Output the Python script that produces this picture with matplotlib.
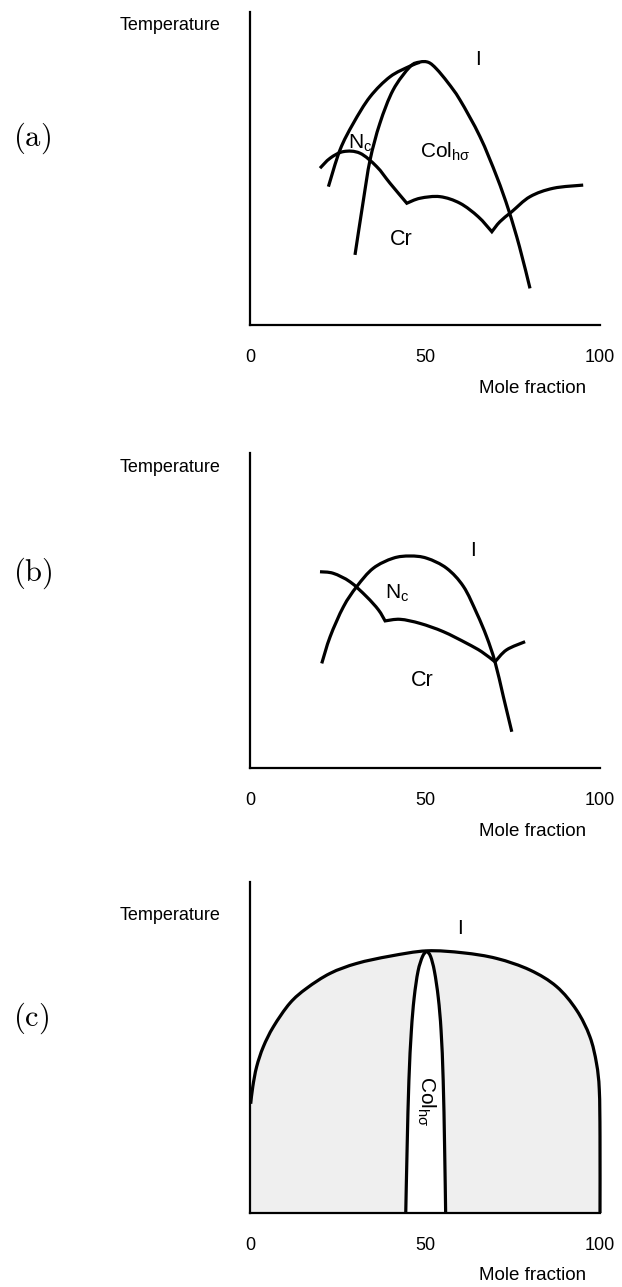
import matplotlib
matplotlib.use('Agg')
import matplotlib.pyplot as plt
from matplotlib.path import Path
from matplotlib.patches import PathPatch

plt.rcParams['font.family'] = ['Liberation Sans', 'DejaVu Sans']
plt.rcParams['mathtext.fontset'] = 'custom'
plt.rcParams['mathtext.rm'] = 'Liberation Sans'
plt.rcParams['mathtext.it'] = 'Liberation Sans:italic'
plt.rcParams['mathtext.bf'] = 'Liberation Sans:bold'

# ---------------- data ----------------
x_ticks = [0, 50, 100]
x_tick_labels = ['0', '50', '100']

# panel (a)
a_ni_x = [22.4, 25.7, 29.5, 34.3, 40.0, 45.7, 48.5]
a_ni_y = [44.2, 55.9, 64.4, 72.9, 79.3, 82.7, 83.9]
a_col_x = [30.0, 32.4, 34.3, 37.1, 40.9, 45.7, 48.5, 51.0, 53.3, 56.5, 60.0, 65.7, 70.5, 73.9, 77.0, 80.0]
a_col_y = [22.4, 39.9, 52.7, 64.4, 75.1, 82.5, 84.0, 83.9, 81.8, 77.5, 71.9, 60.2, 47.4, 36.7, 25.0, 11.7]
a_cr_x = [20.0, 22.9, 26.7, 31.4, 36.2, 40.0, 44.8, 48.6, 54.3, 60.0, 65.2, 69.1, 71.4, 74.8, 80.0, 86.7, 95.2]
a_cr_y = [50.1, 53.3, 55.4, 54.9, 50.6, 45.3, 38.9, 40.5, 41.0, 38.9, 34.6, 29.8, 33.0, 36.2, 41.0, 43.7, 44.7]
a_cr_kinks = [6, 11]

# panel (b)
b_ni_x = [20.5, 22.9, 26.7, 30.5, 35.2, 40.9, 45.7, 50.5, 56.2, 61.0, 64.8, 67.6, 70.0, 72.4, 74.8]
b_ni_y = [33.2, 41.7, 51.2, 57.6, 63.4, 66.6, 67.3, 66.6, 63.4, 57.6, 49.1, 41.7, 33.7, 22.6, 11.5]
b_cr_x = [20.0, 23.8, 28.6, 33.3, 36.7, 38.6, 42.9, 48.6, 55.2, 61.9, 66.2, 70.0, 73.3, 78.6]
b_cr_y = [62.3, 61.8, 59.1, 54.4, 50.2, 46.7, 47.2, 45.9, 43.3, 39.6, 36.9, 33.7, 37.5, 40.1]
b_cr_kinks = [5, 11]

# panel (c)
c_dome_x = [0.2, 0.8, 1.9, 3.8, 6.7, 11.4, 16.2, 22.9, 30.5, 40.0, 50.5, 60.9, 70.5, 80.0, 87.6, 93.3, 97.1, 99.0, 99.8, 100.0, 100.0]
c_dome_y = [33.0, 38.2, 44.2, 50.2, 56.3, 63.4, 67.9, 72.4, 75.4, 77.6, 79.2, 78.6, 76.9, 73.4, 68.4, 61.3, 53.3, 45.2, 37.2, 23.1, 0.0]
c_lens_left_x = [44.5, 44.9, 45.4, 46.1, 46.9, 48.0, 49.3, 50.5]
c_lens_left_y = [0.0, 20.0, 40.0, 55.0, 65.0, 73.0, 77.5, 79.2]
c_lens_right_x = [50.5, 51.6, 52.7, 53.8, 54.6, 55.2, 55.6, 55.9]
c_lens_right_y = [79.2, 77.5, 73.0, 65.0, 55.0, 40.0, 20.0, 0.0]

LW = 2.3
PX = 0.72  # points per pixel at dpi 100
W, H = 622, 1287


def smooth_path(xs, ys, corners=()):
    """Catmull-Rom (cubic Bezier) path through the points, sharp at corner indices."""
    pts = list(zip(xs, ys))
    cuts = [0] + list(corners) + [len(pts) - 1]
    verts, codes = [], []
    for s, e in zip(cuts[:-1], cuts[1:]):
        seg = pts[s:e + 1]
        if not verts:
            verts.append(seg[0]); codes.append(Path.MOVETO)
        n = len(seg)
        for i in range(n - 1):
            p0 = seg[i - 1] if i > 0 else seg[i]
            p1 = seg[i]
            p2 = seg[i + 1]
            p3 = seg[i + 2] if i + 2 < n else seg[i + 1]
            c1 = (p1[0] + (p2[0] - p0[0]) / 6, p1[1] + (p2[1] - p0[1]) / 6)
            c2 = (p2[0] - (p3[0] - p1[0]) / 6, p2[1] - (p3[1] - p1[1]) / 6)
            verts += [c1, c2, p2]; codes += [Path.CURVE4] * 3
    return verts, codes


def draw_curve(ax, xs, ys, corners=()):
    v, c = smooth_path(xs, ys, corners)
    ax.add_patch(PathPatch(Path(v, c), fill=False, lw=LW, ec='black',
                           capstyle='butt', joinstyle='miter', clip_on=False, zorder=3))


def make_axes(top_px, bottom_px):
    ax = fig.add_axes([250 / W, 1 - bottom_px / H, 350 / W, (bottom_px - top_px) / H])
    ax.set_xlim(0, 100)
    ax.set_ylim(0, 100)
    for s in ('top', 'right'):
        ax.spines[s].set_visible(False)
    for s in ('left', 'bottom'):
        ax.spines[s].set_linewidth(1.6)
    ax.set_yticks([])
    ax.set_xticks(x_ticks)
    ax.set_xticklabels(x_tick_labels, fontsize=13)
    ax.tick_params(axis='x', length=0, pad=24 * PX)
    ax.annotate('Mole fraction', xy=(80.7, 0), xycoords=('data', 'axes fraction'),
                xytext=(0, -63 * PX), textcoords='offset points',
                ha='center', va='center', fontsize=13.5)
    return ax


fig = plt.figure(figsize=(W / 100, H / 100), dpi=100)

panels = [('a', 12, 325, 25, 138), ('b', 453, 768, 468, 573), ('c', 882, 1213, 915, 1018)]
axes = {}
for name, top, bot, temp_y, lab_y in panels:
    ax = make_axes(top, bot)
    axes[name] = ax
    fig.text(220 / W, 1 - temp_y / H, 'Temperature', ha='right', va='center', fontsize=13)
    fig.text(13 / W, 1 - lab_y / H, r'$\mathrm{(%s)}$' % name, ha='left', va='center',
             fontsize=22, math_fontfamily='cm')

# (a)
ax = axes['a']
draw_curve(ax, a_ni_x, a_ni_y)
draw_curve(ax, a_col_x, a_col_y)
draw_curve(ax, a_cr_x, a_cr_y, a_cr_kinks)
ax.text(65.2, 84.7, 'I', ha='center', va='center', fontsize=15)
ax.text(31.4, 58.1, r'N$_\mathrm{c}$', ha='center', va='center', fontsize=15)
ax.text(48.6, 53.4, r'Col$_\mathrm{hσ}$', ha='left', va='baseline', fontsize=15)
ax.text(43.1, 27.2, 'Cr', ha='center', va='center', fontsize=15.5)

# (b)
ax = axes['b']
draw_curve(ax, b_ni_x, b_ni_y)
draw_curve(ax, b_cr_x, b_cr_y, b_cr_kinks)
ax.text(63.8, 69.2, 'I', ha='center', va='center', fontsize=15)
ax.text(42.0, 55.6, r'N$_\mathrm{c}$', ha='center', va='center', fontsize=15)
ax.text(49.1, 27.9, 'Cr', ha='center', va='center', fontsize=15.5)

# (c)
ax = axes['c']
v, c = smooth_path(c_dome_x, c_dome_y)
v_fill = [(0.0, 0.0)] + v[:] + [(0.0, 0.0)]
c_fill = [Path.MOVETO, Path.LINETO] + c[1:] + [Path.CLOSEPOLY]
ax.add_patch(PathPatch(Path(v_fill, c_fill), fc='#efefef', ec='none', zorder=1))
vl, cl = smooth_path(c_lens_left_x, c_lens_left_y)
vr, cr = smooth_path(c_lens_right_x, c_lens_right_y)
v_lens = vl + vr[1:] + [vl[0]]
c_lens = cl + cr[1:] + [Path.CLOSEPOLY]
ax.add_patch(PathPatch(Path(v_lens, c_lens), fc='white', ec='none', zorder=2))
draw_curve(ax, c_dome_x, c_dome_y)
draw_curve(ax, c_lens_left_x, c_lens_left_y)
draw_curve(ax, c_lens_right_x, c_lens_right_y)
ax.text(60.0, 86.1, 'I', ha='center', va='center', fontsize=15)
ax.text(50.2, 33.8, r'Col$_\mathrm{hσ}$', ha='center', va='center', rotation=-90, fontsize=15)

fig.savefig('out.png', dpi=100)
